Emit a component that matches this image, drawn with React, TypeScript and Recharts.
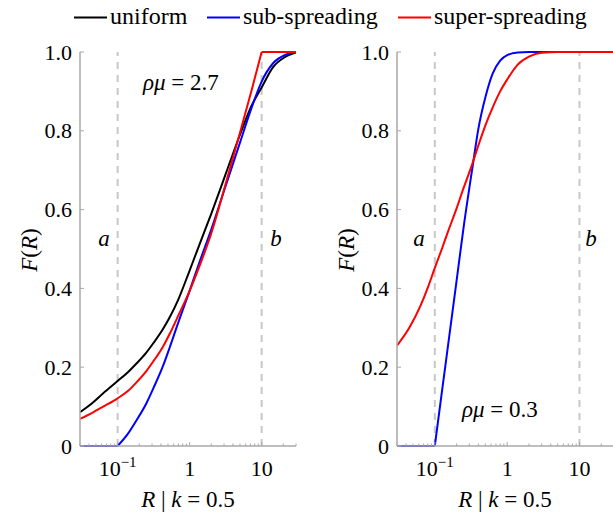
import React from 'react';
import { LineChart, Line, XAxis, YAxis, ReferenceLine } from 'recharts';

const FONT = "'Liberation Serif', serif";
const BLACK = '#000000';
const BLUE = '#0000ff';
const RED = '#ff0000';
const AXIS_GRAY = '#a8a8a8';
const DASH_GRAY = '#c8c8c8';

// shared axes
const xDomain = [0.03, 30];
const xTicks = [0.03, 0.04, 0.05, 0.06, 0.07, 0.08, 0.09, 0.1, 0.2, 0.3, 0.4, 0.5, 0.6, 0.7, 0.8, 0.9, 1, 2, 3, 4, 5, 6, 7, 8, 9, 10, 20, 30];
const xMajor = [0.1, 1, 10];
const yTicks = [0, 0.2, 0.4, 0.6, 0.8, 1.0];
const yTickLabels = ['0', '0.2', '0.4', '0.6', '0.8', '1.0'];
const guideA = 0.1;
const guideB = 10;

// legend
const legendNames = ['uniform', 'sub-spreading', 'super-spreading'];

// left panel: rho mu = 2.7
const leftUniformR = [0.03, 0.045, 0.063, 0.1, 0.14, 0.184, 0.25, 0.316, 0.42, 0.533, 0.7, 0.96, 1.36, 2, 3.16, 5, 7.3, 10, 14.5, 21.5, 30];
const leftUniform = [0.086, 0.11, 0.134, 0.165, 0.188, 0.21, 0.237, 0.262, 0.295, 0.328, 0.373, 0.437, 0.51, 0.59, 0.69, 0.79, 0.865, 0.91, 0.962, 0.988, 0.999];
const leftSubFlatR = [0.03, 0.1];
const leftSubFlat = [0, 0];
const leftSubR = [0.1, 0.14, 0.184, 0.25, 0.316, 0.42, 0.533, 0.7, 0.96, 1.36, 2, 3.16, 5, 7.3, 10, 14.5, 21.5, 30];
const leftSub = [0, 0.032, 0.066, 0.108, 0.148, 0.2, 0.252, 0.315, 0.385, 0.465, 0.55, 0.66, 0.77, 0.86, 0.925, 0.972, 0.993, 1.0];
const leftSuperR = [0.03, 0.045, 0.063, 0.1, 0.14, 0.184, 0.25, 0.316, 0.42, 0.533, 0.7, 0.96, 1.36, 2, 3.16, 5, 7.3, 10];
const leftSuper = [0.069, 0.085, 0.1, 0.121, 0.14, 0.162, 0.19, 0.216, 0.25, 0.286, 0.332, 0.386, 0.455, 0.54, 0.665, 0.795, 0.905, 1.0];
const leftSuperCapR = [10, 30];
const leftSuperCap = [1, 1];

// right panel: rho mu = 0.3
const rightSuperR = [0.03, 0.045, 0.063, 0.08, 0.1, 0.125, 0.15, 0.2, 0.25, 0.33, 0.4, 0.5, 0.63, 0.8, 1.0, 1.4, 2, 3, 5, 10, 30];
const rightSuper = [0.255, 0.302, 0.355, 0.402, 0.452, 0.5, 0.541, 0.603, 0.655, 0.716, 0.763, 0.814, 0.859, 0.9, 0.93, 0.968, 0.988, 0.998, 1, 1, 1];
const rightSubFlatR = [0.03, 0.1];
const rightSubFlat = [0, 0];
const rightSubR = [0.1, 0.125, 0.15, 0.2, 0.25, 0.33, 0.4, 0.5, 0.63, 0.8, 1.0, 1.4, 2, 30];
const rightSub = [0, 0.136, 0.246, 0.42, 0.555, 0.705, 0.805, 0.885, 0.945, 0.978, 0.992, 0.999, 1, 1];

const toPoints = (rs: number[], fs: number[]) => rs.map((r, i) => ({ r, f: fs[i] }));

type Series = { key: string; color: string; data: { r: number; f: number }[] };

const leftSeries: Series[] = [
  { key: 'lu', color: BLACK, data: toPoints(leftUniformR, leftUniform) },
  { key: 'lsub0', color: BLUE, data: toPoints(leftSubFlatR, leftSubFlat) },
  { key: 'lsub', color: BLUE, data: toPoints(leftSubR, leftSub) },
  { key: 'lsup', color: RED, data: toPoints(leftSuperR, leftSuper) },
  { key: 'lsupc', color: RED, data: toPoints(leftSuperCapR, leftSuperCap) },
];

const rightSeries: Series[] = [
  { key: 'rsub0', color: BLUE, data: toPoints(rightSubFlatR, rightSubFlat) },
  { key: 'rsub', color: BLUE, data: toPoints(rightSubR, rightSub) },
  { key: 'rsup', color: RED, data: toPoints(rightSuperR, rightSuper) },
];

const fontCss = `
#root svg text, #root svg tspan, #root text.serif-text, #root .serif-text tspan {
  font-family: 'Liberation Serif', 'Times New Roman', serif !important;
}
`;

const XTick = (props: any) => {
  const { x, y, payload } = props;
  const v = payload.value;
  const isMajor = xMajor.some((m) => Math.abs(m - v) < 1e-9);
  return (
    <g>
      <line x1={x} x2={x} y1={y} y2={y - (isMajor ? 4 : 2.5)} stroke={AXIS_GRAY} strokeWidth={1} />
      {isMajor && (
        <text className="serif-text" x={x} y={y + 30} textAnchor="middle" fontFamily={FONT} fontSize={22} fill="#000">
          {v === 0.1 ? (
            <>
              10
              <tspan fontSize={15} dy={-9}>−1</tspan>
            </>
          ) : (
            String(v)
          )}
        </text>
      )}
    </g>
  );
};

const YTick = (props: any) => {
  const { x, y, index } = props;
  return (
    <g>
      <line x1={x} x2={x + 4} y1={y} y2={y} stroke={AXIS_GRAY} strokeWidth={1} />
      <text className="serif-text" x={x - 8} y={y + 7.5} textAnchor="end" fontFamily={FONT} fontSize={22} fill="#000">
        {yTickLabels[index]}
      </text>
    </g>
  );
};

function Panel({ series, width, marginRight }: { series: Series[]; width: number; marginRight: number }) {
  return (
    <LineChart width={width} height={514} margin={{ top: 52, right: marginRight, bottom: 0, left: 0 }}>
      <XAxis
        dataKey="r"
        type="number"
        scale="log"
        domain={xDomain}
        allowDataOverflow
        ticks={xTicks}
        interval={0}
        tick={<XTick />}
        tickLine={false}
        tickSize={0}
        tickMargin={0}
        height={68}
        axisLine={{ stroke: AXIS_GRAY, strokeWidth: 1.5 }}
      />
      <YAxis
        type="number"
        domain={[0, 1]}
        ticks={yTicks}
        interval={0}
        tick={<YTick />}
        tickLine={false}
        tickSize={0}
        tickMargin={0}
        width={80}
        axisLine={{ stroke: AXIS_GRAY, strokeWidth: 1.5 }}
      />
      <ReferenceLine x={guideA} stroke={DASH_GRAY} strokeWidth={2} strokeDasharray="7 6" />
      <ReferenceLine x={guideB} stroke={DASH_GRAY} strokeWidth={2} strokeDasharray="7 6" />
      {series.map((s) => (
        <Line
          key={s.key}
          data={s.data}
          dataKey="f"
          type="monotone"
          stroke={s.color}
          strokeWidth={2}
          dot={false}
          activeDot={false}
          isAnimationActive={false}
          legendType="none"
        />
      ))}
    </LineChart>
  );
}

const legendColors = [BLACK, BLUE, RED];
const legendLineX = [74, 207, 398];

export default function App() {
  return (
    <div style={{ position: 'absolute', left: 0, top: 0, width: 613, height: 514, overflow: 'hidden', background: '#fff' }}>
      <style>{fontCss}</style>
      <div style={{ position: 'absolute', left: 0, top: 0 }}>
        <Panel series={leftSeries} width={310} marginRight={14} />
      </div>
      <div style={{ position: 'absolute', left: 317, top: 0 }}>
        <Panel series={rightSeries} width={297} marginRight={0} />
      </div>
      <svg width={613} height={514} style={{ position: 'absolute', left: 0, top: 0, pointerEvents: 'none' }}>
        <g fontFamily={FONT} fill="#000">
          {legendNames.map((n, i) => (
            <g key={n}>
              <line x1={legendLineX[i]} x2={legendLineX[i] + 33} y1={17.5} y2={17.5} stroke={legendColors[i]} strokeWidth={2} />
              <text className="serif-text" x={legendLineX[i] + 36} y={24} fontSize={24} fontFamily={FONT}>{n}</text>
            </g>
          ))}
          {[37, 354].map((x) => (
            <text className="serif-text" key={x} x={x} y={250} fontSize={23} fontFamily={FONT} textAnchor="middle" transform={`rotate(-90 ${x} 250)`}>
              <tspan fontStyle="italic">F</tspan>(<tspan fontStyle="italic">R</tspan>)
            </text>
          ))}
          {[188, 505].map((x) => (
            <text className="serif-text" key={x} x={x} y={507} fontSize={23} fontFamily={FONT} textAnchor="middle">
              <tspan fontStyle="italic">R</tspan> | <tspan fontStyle="italic">k</tspan> = 0.5
            </text>
          ))}
          <text className="serif-text" x={104} y={246} fontSize={23} fontFamily={FONT} fontStyle="italic" textAnchor="middle">a</text>
          <text className="serif-text" x={276} y={246} fontSize={23} fontFamily={FONT} fontStyle="italic" textAnchor="middle">b</text>
          <text className="serif-text" x={419} y={246} fontSize={23} fontFamily={FONT} fontStyle="italic" textAnchor="middle">a</text>
          <text className="serif-text" x={591} y={246} fontSize={23} fontFamily={FONT} fontStyle="italic" textAnchor="middle">b</text>
          <text className="serif-text" x={143} y={90} fontSize={23} fontFamily={FONT}>
            <tspan fontStyle="italic">ρμ</tspan> = 2.7
          </text>
          <text className="serif-text" x={462} y={417} fontSize={23} fontFamily={FONT}>
            <tspan fontStyle="italic">ρμ</tspan> = 0.3
          </text>
        </g>
      </svg>
    </div>
  );
}
